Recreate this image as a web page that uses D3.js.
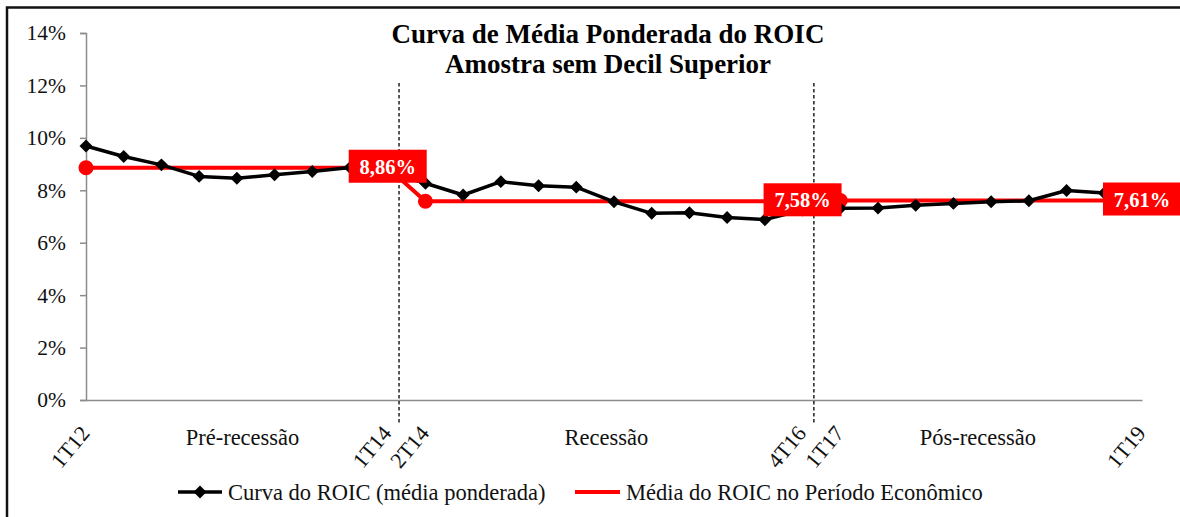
<!DOCTYPE html>
<html><head><meta charset="utf-8">
<script src="https://cdn.jsdelivr.net/npm/d3@7"></script>
<style>
html,body{margin:0;padding:0;background:#fff;}
svg{display:block;}
svg text{font-family:"Liberation Serif","Times New Roman",serif;}
</style></head>
<body><svg id="c" width="1180" height="517"></svg>
<script>
// ---- data ----
const categories = ["1T12","2T12","3T12","4T12","1T13","2T13","3T13","4T13",
  "1T14","2T14","3T14","4T14","1T15","2T15","3T15","4T15",
  "1T16","2T16","3T16","4T16","1T17","2T17","3T17","4T17",
  "1T18","2T18","3T18","4T18","1T19"];
const roicValues = [9.69,9.29,8.97,8.53,8.46,8.59,8.72,8.87,8.70,
  8.27,7.82,8.33,8.17,8.12,7.56,7.12,7.14,6.96,6.88,7.25,
  7.31,7.32,7.43,7.50,7.56,7.60,7.99,7.90,7.85];
const periodNames = ["Pré-recessão","Recessão","Pós-recessão"];
const periodStart = ["1T12","2T14","1T17"];
const periodEnd = ["1T14","4T16","1T19"];
const periodMeans = [8.86,7.58,7.61];
const periodLabels = ["8,86%","7,58%","7,61%"];
const shownTicks = ["1T12","1T14","2T14","4T16","1T17","1T19"];
const yTicks = [0,2,4,6,8,10,12,14];
const titleLines = ["Curva de Média Ponderada do ROIC","Amostra sem Decil Superior"];
const legendNames = ["Curva do ROIC (média ponderada)","Média do ROIC no Período Econômico"];

// mean series per category
const meanValues = categories.map((c,i)=>{
  for(let p=0;p<periodNames.length;p++){
    const s=categories.indexOf(periodStart[p]), e=categories.indexOf(periodEnd[p]);
    if(i>=s&&i<=e) return periodMeans[p];
  }
});

const SERIF = "Liberation Serif, Times New Roman, serif";
const svg = d3.select("#c");
const x = d3.scalePoint().domain(categories).range([86,1142]);
const y = d3.scaleLinear().domain([0,14]).range([400,33]);
const step = x.step();
const divOffset = 0.3;

// outer frame
svg.append("rect").attr("x",7).attr("y",7.5).attr("width",1200).attr("height",600)
  .attr("fill","none").attr("stroke","#111").attr("stroke-width",2.5);

// title
svg.append("g").selectAll("text").data(titleLines).join("text")
  .attr("x",608).attr("y",(d,i)=>43+i*30).attr("text-anchor","middle")
  .style("font-family",SERIF).attr("font-weight","bold").attr("font-size",27).attr("fill","#000").text(d=>d);

// y axis
const yAxis = d3.axisLeft(y).tickValues(yTicks).tickSize(6).tickPadding(14).tickFormat(d=>d+"%");
const gy = svg.append("g").attr("transform","translate(86,0)").call(yAxis);
gy.attr("font-family",SERIF);
gy.select(".domain").attr("stroke","#8c8c8c").attr("stroke-width",1.5);
gy.selectAll(".tick line").attr("stroke","#8c8c8c").attr("stroke-width",1.5);
gy.selectAll(".tick text").style("font-family",SERIF).attr("font-size",21.5).attr("fill","#111");

// x axis line
const gx = svg.append("g").attr("transform","translate(0,400)")
  .call(d3.axisBottom(x).tickValues(shownTicks).tickSize(0).tickFormat(""));
gx.select(".domain").attr("stroke","#8c8c8c").attr("stroke-width",1.5);

// rotated category labels
svg.append("g").selectAll("text").data(shownTicks).join("text")
  .attr("transform",d=>`translate(${x(d)-7},${424}) rotate(-50)`)
  .attr("text-anchor","end").attr("dy","0.7em")
  .style("font-family",SERIF).attr("font-size",22).attr("fill","#111").text(d=>d);

// dividers
const dividerCats = ["1T14","4T16"];
svg.append("g").selectAll("line").data(dividerCats).join("line")
  .attr("x1",d=>x(d)+divOffset*step).attr("x2",d=>x(d)+divOffset*step)
  .attr("y1",83).attr("y2",423)
  .attr("stroke","#111").attr("stroke-width",1.4).attr("stroke-dasharray","3.5,2.5");

// period names
const bounds = [x(categories[0]), x("1T14")+divOffset*step, x("4T16")+divOffset*step, x(categories[categories.length-1])];
svg.append("g").selectAll("text").data(periodNames).join("text")
  .attr("x",(d,i)=>(bounds[i]+bounds[i+1])/2).attr("y",445)
  .attr("text-anchor","middle").style("font-family",SERIF).attr("font-size",22.5).attr("fill","#111").text(d=>d);

// mean line (red)
const line = d3.line().x((d,i)=>x(categories[i])).y(d=>y(d));
svg.append("path").datum(meanValues).attr("d",line)
  .attr("fill","none").attr("stroke","#ff0000").attr("stroke-width",4).attr("stroke-linejoin","round");
svg.append("g").selectAll("circle").data(periodStart).join("circle")
  .attr("cx",d=>x(d)).attr("cy",(d,i)=>y(periodMeans[i])).attr("r",7.5).attr("fill","#ff0000");

// ROIC line (black)
svg.append("path").datum(roicValues).attr("d",line)
  .attr("fill","none").attr("stroke","#000").attr("stroke-width",3.5).attr("stroke-linejoin","round");
const diamond = d3.symbol().type(d3.symbolSquare).size(84);
svg.append("g").selectAll("path").data(roicValues).join("path")
  .attr("transform",(d,i)=>`translate(${x(categories[i])},${y(d)}) rotate(45)`)
  .attr("d",diamond).attr("fill","#000");

// data labels
const lab = svg.append("g").selectAll("g").data(periodEnd).join("g")
  .attr("transform",(d,i)=>`translate(${x(d)},${y(periodMeans[i])-1})`);
lab.append("rect").attr("x",-39).attr("y",-17).attr("width",78).attr("height",33).attr("fill","#ff0000");
lab.append("text").attr("text-anchor","middle").attr("dy","0.35em")
  .style("font-family",SERIF).attr("font-weight","bold").attr("font-size",20.5).attr("fill","#fff").text((d,i)=>periodLabels[i]);

// legend
const lg = svg.append("g").attr("transform","translate(0,492)");
lg.append("line").attr("x1",178).attr("x2",222).attr("stroke","#000").attr("stroke-width",3.5);
lg.append("path").attr("transform","translate(200,0) rotate(45)").attr("d",diamond).attr("fill","#000");
lg.append("text").attr("x",228).attr("dy","0.35em").style("font-family",SERIF).attr("font-size",22.5).attr("fill","#111").text(legendNames[0]);
lg.append("line").attr("x1",575).attr("x2",620).attr("stroke","#ff0000").attr("stroke-width",4);
lg.append("text").attr("x",626).attr("dy","0.35em").style("font-family",SERIF).attr("font-size",22.5).attr("fill","#111").text(legendNames[1]);
</script></body></html>
